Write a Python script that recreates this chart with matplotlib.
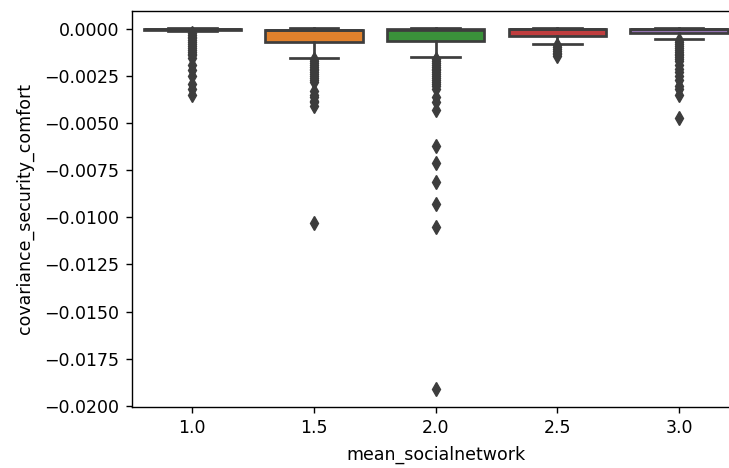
import numpy as np
import matplotlib
matplotlib.use("Agg")
import matplotlib.pyplot as plt
from matplotlib.ticker import MultipleLocator

# groups on the x axis
categories = ["1.0", "1.5", "2.0", "2.5", "3.0"]
colors = ["#3274a1", "#e1812c", "#3a923a", "#c03d3e", "#9372b2"]

# box statistics
whislo = [-0.00010, -0.00156, -0.00150, -0.00080, -0.00053]
q1 = [-0.00004, -0.00067, -0.00064, -0.00035, -0.00023]
med = [-0.00001, -0.00005, -0.00003, -0.00001, -0.00001]
q3 = [0.00000, -0.00005, -0.00002, 0.00000, 0.00000]
whishi = [0.00004, 0.00005, 0.00005, 0.00005, 0.00005]

# outliers
fliers_10 = [-0.0002, -0.0003, -0.0004, -0.0005, -0.0006, -0.0007, -0.0008,
             -0.0009, -0.0010, -0.0011, -0.0012, -0.0013, -0.0014, -0.00156,
             -0.0019, -0.0022, -0.0025, -0.0029, -0.0032, -0.0035]
fliers_15 = [-0.0016, -0.0017, -0.0018, -0.0019, -0.0020, -0.0021, -0.0022,
             -0.0023, -0.0024, -0.0025, -0.0026, -0.0027, -0.0028, -0.0033,
             -0.0035, -0.0036, -0.0038, -0.0039, -0.0041, -0.0103]
fliers_20 = [-0.0016, -0.0017, -0.0018, -0.0019, -0.0020, -0.0021, -0.0022,
             -0.0023, -0.0024, -0.0025, -0.0026, -0.0027, -0.0028, -0.0029,
             -0.0030, -0.0032, -0.0036, -0.0039, -0.0043, -0.0062, -0.0071,
             -0.0081, -0.0093, -0.0105, -0.0191]
fliers_25 = [-0.00085, -0.00095, -0.00105, -0.00115, -0.00125, -0.00135,
             -0.00145]
fliers_30 = [-0.0006, -0.0007, -0.0008, -0.0009, -0.0010, -0.0011, -0.0012,
             -0.0013, -0.0014, -0.0015, -0.0016, -0.0017, -0.0019, -0.0021,
             -0.0023, -0.0025, -0.0027, -0.0030, -0.0032, -0.0035, -0.0047]
fliers = [fliers_10, fliers_15, fliers_20, fliers_25, fliers_30]

plt.rcParams["font.size"] = 12.5
gray = "#3d3d3d"
lw = 1.95

stats = []
for i in range(len(categories)):
    stats.append(dict(whislo=whislo[i], q1=q1[i], med=med[i], q3=q3[i],
                      whishi=whishi[i], fliers=fliers[i]))

fig = plt.figure(figsize=(7.29, 4.68), dpi=100)
ax = fig.add_axes([0.1804, 0.131, 0.8347, 0.846])

bp = ax.bxp(stats, positions=np.arange(len(categories)), widths=0.8,
            patch_artist=True,
            boxprops=dict(edgecolor=gray, linewidth=lw),
            whiskerprops=dict(color=gray, linewidth=lw),
            capprops=dict(color=gray, linewidth=lw),
            medianprops=dict(color=gray, linewidth=lw),
            flierprops=dict(marker="d", markerfacecolor=gray,
                            markeredgecolor=gray, markersize=7.5,
                            linestyle="none"))
for patch, c in zip(bp["boxes"], colors):
    patch.set_facecolor(c)

ax.set_xlim(-0.5, len(categories) - 0.5)
ax.set_ylim(-0.02005, 0.00097)
ax.set_xticks(np.arange(len(categories)))
ax.set_xticklabels(categories)
ax.yaxis.set_major_locator(MultipleLocator(0.0025))
ax.yaxis.set_major_formatter(plt.FuncFormatter(
    lambda v, p: ("%.4f" % v).replace("-", "\u2212") if abs(v) > 1e-9 else "0.0000"))
ax.tick_params(length=4.5, width=1.0, pad=4.5)
for s in ax.spines.values():
    s.set_linewidth(1.0)

ax.set_xlabel("mean_socialnetwork", labelpad=6)
ax.set_ylabel("covariance_security_comfort", labelpad=7)

plt.savefig("out.png", dpi=100)
